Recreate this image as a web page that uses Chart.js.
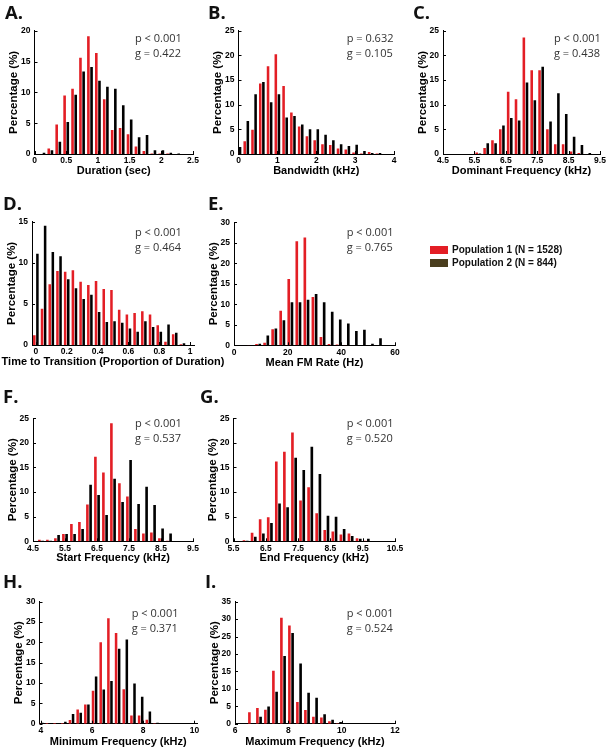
<!DOCTYPE html>
<html>
<head>
<meta charset="utf-8">
<script src="https://cdn.jsdelivr.net/npm/chart.js@4.4.1/dist/chart.umd.min.js"></script>
<style>
html,body{margin:0;padding:0;background:#fff;}
#page{position:relative;width:614px;height:749px;overflow:hidden;background:#fff;}
.cw{position:absolute;}
.cw canvas{display:block;}
.lbl{position:absolute;font-family:'Open Sans',sans-serif;font-weight:700;font-size:18.5px;line-height:18.5px;color:#111;white-space:nowrap;}
.stat{position:absolute;font-family:'Open Sans',sans-serif;font-size:11px;line-height:11px;color:#333;white-space:nowrap;}
.leg{position:absolute;font-family:'Liberation Sans',Arial,sans-serif;font-weight:700;font-size:10px;line-height:10px;color:#111;white-space:nowrap;}
.sw{position:absolute;width:18px;height:7.5px;}
</style>
</head>
<body>
<div id="page"></div>
<script>
// ---------------- DATA ----------------
const popLabels = ['Population 1 (N = 1528)', 'Population 2 (N = 844)'];
const yTitle = 'Percentage (%)';

// A. Duration
const durationBins = [0.125,0.25,0.375,0.5,0.625,0.75,0.875,1.0,1.125,1.25,1.375,1.5,1.625,1.75,1.875,2.0,2.125,2.25];
const durationPop1 = [0.0,0.9,4.8,9.5,10.6,15.6,19.1,16.4,8.9,3.9,4.2,3.2,1.2,0.5,0.1,0.1,0.1,0.0];
const durationPop2 = [0.2,0.6,2.0,5.2,9.6,13.4,14.1,11.9,10.9,10.6,7.9,5.6,2.7,3.1,0.6,0.6,0.2,0.1];
const durationXTicks = [0,0.5,1,1.5,2,2.5];
const durationYTicks = [0,5,10,15,20];

// B. Bandwidth
const bandwidthBins = [0,0.2,0.4,0.6,0.8,1.0,1.2,1.4,1.6,1.8,2.0,2.2,2.4,2.6,2.8,3.0,3.2,3.4,3.6];
const bandwidthPop1 = [0.5,2.6,4.9,14.3,17.8,20.2,13.8,8.4,5.6,3.6,2.8,2.0,1.8,1.1,0.9,0.3,0.1,0.4,0.1];
const bandwidthPop2 = [1.4,6.7,12.1,14.6,10.5,12.1,7.4,7.7,6.0,5.0,5.0,3.9,2.8,2.0,1.6,1.9,0.6,0.2,0.2];
const bandwidthXTicks = [0,1,2,3,4];
const bandwidthYTicks = [0,5,10,15,20,25];

// C. Dominant frequency
const dominantBins = [5.625,5.875,6.125,6.375,6.625,6.875,7.125,7.375,7.625,7.875,8.125,8.375,8.625,8.875,9.125];
const dominantPop1 = [0.3,1.2,2.8,5.0,12.6,11.1,23.6,17.0,17.0,5.0,2.0,2.0,0.5,0.2,0.0];
const dominantPop2 = [0.1,2.2,2.2,5.8,7.3,6.8,14.5,10.9,17.7,6.6,12.3,8.1,3.5,1.8,0.2];
const dominantXTicks = [4.5,5.5,6.5,7.5,8.5,9.5];
const dominantYTicks = [0,5,10,15,20,25];

// D. Time to transition
const transitionBins = [0,0.05,0.1,0.15,0.2,0.25,0.3,0.35,0.4,0.45,0.5,0.55,0.6,0.65,0.7,0.75,0.8,0.85,0.9,0.95];
const transitionPop1 = [1.2,4.4,7.4,9.0,8.9,9.1,7.7,7.3,7.8,6.8,6.7,4.3,3.7,3.9,4.1,3.7,2.4,0.4,1.3,0.1];
const transitionPop2 = [11.1,14.5,11.3,10.8,8.0,6.9,5.6,6.1,4.0,2.8,2.9,2.7,2.0,1.6,2.9,2.2,1.6,2.5,1.5,0.2];
const transitionXTicks = [0,0.2,0.4,0.6,0.8,1];
const transitionYTicks = [0,5,10,15];

// E. Mean FM rate
const fmBins = [6,9,12,15,18,21,24,27,30,33,36,39,42,45,48,51,54,57];
const fmPop1 = [0.1,0.3,0.6,3.9,8.4,16.2,25.4,26.3,11.8,2.0,0.3,0.2,0.1,0,0,0,0,0];
const fmPop2 = [0.1,0.4,2.4,4.1,6.1,10.5,10.5,11.1,12.5,10.5,8.2,6.3,5.3,3.5,3.8,0.4,1.7,0.1];
const fmXTicks = [0,20,40,60];
const fmYTicks = [0,5,10,15,20,25,30];

// F. Start frequency
const startBins = [4.75,5.0,5.25,5.5,5.75,6.0,6.25,6.5,6.75,7.0,7.25,7.5,7.75,8.0,8.25,8.5,8.75];
const startPop1 = [0.3,0.3,0.6,1.5,3.5,3.9,7.5,17.2,14.0,24.0,11.8,9.1,2.5,1.6,1.8,0.6,0.1];
const startPop2 = [0.1,0.1,1.3,1.5,1.5,2.5,11.5,9.4,5.35,12.7,8.0,16.5,7.6,11.1,7.4,2.6,1.6];
const startXTicks = [4.5,5.5,6.5,7.5,8.5,9.5];
const startYTicks = [0,5,10,15,20,25];

// G. End frequency
const endBins = [5.875,6.125,6.375,6.625,6.875,7.125,7.375,7.625,7.875,8.125,8.375,8.625,8.875,9.125,9.375,9.625];
const endPop1 = [0.2,1.75,4.5,4.9,16.2,18.2,22.1,8.3,11.0,5.7,2.3,2.0,1.4,1.6,0.6,0.1];
const endPop2 = [0.1,0.95,1.6,3.7,7.7,6.9,17.0,14.5,19.2,13.7,5.2,5.0,2.5,1.1,0.5,0.5];
const endXTicks = [5.5,6.5,7.5,8.5,9.5,10.5];
const endYTicks = [0,5,10,15,20,25];

// H. Minimum frequency
const minBins = [4.0,4.3,4.6,4.9,5.2,5.5,5.8,6.1,6.4,6.7,7.0,7.3,7.6,7.9,8.2,8.5];
const minPop1 = [0.1,0.2,0.2,0.2,0.9,3.5,4.7,8.1,20.0,25.9,22.3,8.5,2.0,2.0,1.0,0.1];
const minPop2 = [0.25,0.1,0.1,0.5,2.4,2.7,4.7,11.6,8.4,10.5,18.4,20.7,9.9,6.6,3.0,0.25];
const minXTicks = [4,6,8,10];
const minYTicks = [0,5,10,15,20,25,30];

// I. Maximum frequency
const maxBins = [6.3,6.6,6.9,7.2,7.5,7.8,8.1,8.4,8.7,9.0,9.3,9.6,9.9];
const maxPop1 = [0,3.25,4.5,4.0,15.2,30.4,28.2,6.2,3.9,2.0,1.8,0.7,0.1];
const maxPop2 = [0.2,0.1,2.0,4.9,9.2,19.4,26.0,17.3,8.9,7.45,2.7,1.1,0.5];
const maxXTicks = [6,8,10,12];
const maxYTicks = [0,5,10,15,20,25,30,35];

const panelLetters = ['A.','B.','C.','D.','E.','F.','G.','H.','I.'];
const xTitles = ['Duration (sec)','Bandwidth (kHz)','Dominant Frequency (kHz)',
  'Time to Transition (Proportion of Duration)','Mean FM Rate (Hz)',
  'Start Frequency (kHz)','End Frequency (kHz)','Minimum Frequency (kHz)','Maximum Frequency (kHz)'];
const pTexts = ['p < 0.001','p = 0.632','p < 0.001','p < 0.001','p < 0.001','p < 0.001','p < 0.001','p < 0.001','p < 0.001'];
const gTexts = ['g = 0.422','g = 0.105','g = 0.438','g = 0.464','g = 0.765','g = 0.537','g = 0.520','g = 0.371','g = 0.524'];

// ---------------- STYLE / LAYOUT ----------------
const RED = '#e31e25';
const BLACK = '#000000';
const LEGEND2 = '#4a3e1e';
const Y_TITLE_SIZE = 11.5, X_TITLE_SIZE = 11;
const Y_TITLE_GAP = 20.5;

const panels = [
  {bins:durationBins, p1:durationPop1, p2:durationPop2, xt:durationXTicks, yt:durationYTicks, xmin:0, xmax:2.5,
   L:34.5, R:193, T:30.7, B:154, xty:170.7, lx:5, ly:13.3, sx:135, sy:37.5},
  {bins:bandwidthBins, p1:bandwidthPop1, p2:bandwidthPop2, xt:bandwidthXTicks, yt:bandwidthYTicks, xmin:0, xmax:4,
   L:238.5, R:394, T:30.7, B:154, xty:170.7, lx:208, ly:13.3, sx:346.7, sy:37.6},
  {bins:dominantBins, p1:dominantPop1, p2:dominantPop2, xt:dominantXTicks, yt:dominantYTicks, xmin:4.5, xmax:9.5,
   L:443, R:600, T:30.7, B:154, xty:170.7, lx:413, ly:13.3, sx:554, sy:37.5},
  {bins:transitionBins, p1:transitionPop1, p2:transitionPop2, xt:transitionXTicks, yt:transitionYTicks, xmin:-0.025, xmax:1.025,
   L:32, R:194, T:221.7, B:345, xty:361.7, lx:3, ly:204, sx:135, sy:231.7},
  {bins:fmBins, p1:fmPop1, p2:fmPop2, xt:fmXTicks, yt:fmYTicks, xmin:0, xmax:60,
   L:234, R:395, T:222.3, B:345.3, xty:362.7, lx:208, ly:204, sx:346.7, sy:231.7},
  {bins:startBins, p1:startPop1, p2:startPop2, xt:startXTicks, yt:startYTicks, xmin:4.5, xmax:9.5,
   L:33, R:193, T:418.3, B:541.3, xty:558.3, lx:3, ly:397, sx:135, sy:423.3},
  {bins:endBins, p1:endPop1, p2:endPop2, xt:endXTicks, yt:endYTicks, xmin:5.5, xmax:10.5,
   L:233.5, R:395, T:418.3, B:541.3, xty:558.3, lx:200, ly:397, sx:346.7, sy:423.3},
  {bins:minBins, p1:minPop1, p2:minPop2, xt:minXTicks, yt:minYTicks, xmin:3.95, xmax:10.1,
   L:39.5, R:197, T:601.7, B:723.7, xty:742.3, lx:3, ly:581.5, sx:131.7, sy:613.3},
  {bins:maxBins, p1:maxPop1, p2:maxPop2, xt:maxXTicks, yt:maxYTicks, xmin:6, xmax:12,
   L:235, R:395, T:601.7, B:723.7, xty:742.3, lx:205, ly:581.5, sx:346.7, sy:612.7}
];

const page = document.getElementById('page');
const fmt = v => String(+(+v).toFixed(3));

// inward tick marks + x-axis title (drawn without width compression)
const axisExtras = {
  id: 'axisExtras',
  afterDraw(chart, args, opts) {
    const {ctx, chartArea: a, scales: {x, y}} = chart;
    ctx.save();
    ctx.strokeStyle = '#000';
    ctx.lineWidth = 1;
    ctx.beginPath();
    y.ticks.forEach(t => {
      const py = Math.round(y.getPixelForValue(t.value)) + 0.5;
      ctx.moveTo(a.left, py); ctx.lineTo(a.left + 3, py);
    });
    x.ticks.forEach(t => {
      const px = Math.round(x.getPixelForValue(t.value)) + 0.5;
      ctx.moveTo(px, a.bottom); ctx.lineTo(px, a.bottom - 3);
    });
    ctx.stroke();
    ctx.fillStyle = '#000';
    ctx.font = 'bold ' + X_TITLE_SIZE + 'px "Liberation Sans"';
    ctx.textAlign = 'center';
    ctx.textBaseline = 'middle';
    ctx.fillText(opts.text, (a.left + a.right) / 2, opts.y);
    ctx.restore();
  }
};

panels.forEach((p, idx) => {
  const yHalf = Y_TITLE_SIZE * 1.2 / 2;
  const xHalf = X_TITLE_SIZE * 1.2 / 2;
  const ytx = p.L - Y_TITLE_GAP;
  const cLeft = Math.max(0, Math.floor(p.L - 40));
  const cRight = Math.min(614, Math.ceil(p.R + 36));
  const cTop = Math.floor(p.T - 10);
  const cBottom = Math.min(749, Math.ceil(p.xty + xHalf));
  const w = cRight - cLeft, h = cBottom - cTop;

  const wrap = document.createElement('div');
  wrap.className = 'cw';
  wrap.style.left = cLeft + 'px';
  wrap.style.top = cTop + 'px';
  wrap.style.width = w + 'px';
  wrap.style.height = h + 'px';
  const canvas = document.createElement('canvas');
  canvas.width = w; canvas.height = h;
  canvas.style.width = w + 'px'; canvas.style.height = h + 'px';
  wrap.appendChild(canvas);
  page.appendChild(wrap);

  const yWidth = p.L - cLeft;
  const xHeight = cBottom - p.B;
  const yTitlePad = Math.max(0, ytx - yHalf - cLeft);

  new Chart(canvas, {
    type: 'bar',
    data: {
      datasets: [
        {label: popLabels[0], data: p.bins.map((b, i) => ({x: b, y: p.p1[i]})), backgroundColor: RED,
         borderWidth: 0, barPercentage: 0.82, categoryPercentage: 0.8},
        {label: popLabels[1], data: p.bins.map((b, i) => ({x: b, y: p.p2[i]})), backgroundColor: BLACK,
         borderWidth: 0, barPercentage: 0.82, categoryPercentage: 0.8}
      ]
    },
    options: {
      responsive: false,
      animation: false,
      devicePixelRatio: 1,
      layout: {padding: {top: p.T - cTop, right: cRight - p.R, left: 0, bottom: 0}},
      plugins: {legend: {display: false}, tooltip: {enabled: false},
                axisExtras: {text: xTitles[idx], y: p.xty - cTop}},
      scales: {
        x: {
          type: 'linear', min: p.xmin, max: p.xmax, offset: false,
          grid: {display: false, drawTicks: false},
          border: {display: true, color: '#000', width: 1},
          ticks: {color: '#000', font: {family: 'Liberation Sans', weight: 'bold', size: 8.5}, padding: 2,
                  maxRotation: 0, autoSkip: false, callback: v => fmt(v)},
          afterBuildTicks: s => { s.ticks = p.xt.map(v => ({value: v})); },
          afterFit: s => { s.height = xHeight; },
          title: {display: false}
        },
        y: {
          type: 'linear', min: 0, max: p.yt[p.yt.length - 1],
          grid: {display: false, drawTicks: false},
          border: {display: true, color: '#000', width: 1},
          ticks: {color: '#000', font: {family: 'Liberation Sans', weight: 'bold', size: 8.5}, padding: 4,
                  autoSkip: false, callback: v => fmt(v)},
          afterBuildTicks: s => { s.ticks = p.yt.map(v => ({value: v})); },
          afterFit: s => { s.width = yWidth; },
          title: {display: true, text: yTitle, color: '#000',
                  font: {family: 'Liberation Sans', weight: 'bold', size: Y_TITLE_SIZE},
                  padding: {top: yTitlePad, bottom: 0}}
        }
      }
    },
    plugins: [axisExtras]
  });

  // panel letter
  const l = document.createElement('div');
  l.className = 'lbl';
  l.textContent = panelLetters[idx];
  l.style.left = p.lx + 'px';
  l.style.top = (p.ly - 0.53 * 18.5) + 'px';
  page.appendChild(l);
  // stats
  [pTexts[idx], gTexts[idx]].forEach((t, k) => {
    const s = document.createElement('div');
    s.className = 'stat';
    s.textContent = t;
    s.style.left = p.sx + 'px';
    s.style.top = (p.sy + k * 15 - 0.53 * 11) + 'px';
    page.appendChild(s);
  });
});

// legend
[[RED, 246, 249.8], [LEGEND2, 259.3, 263.2]].forEach((row, k) => {
  const sw = document.createElement('div');
  sw.className = 'sw';
  sw.style.background = row[0];
  sw.style.left = '430px';
  sw.style.top = row[1] + 'px';
  page.appendChild(sw);
  const t = document.createElement('div');
  t.className = 'leg';
  t.textContent = popLabels[k];
  t.style.left = '452px';
  t.style.top = (row[2] - 0.49 * 10) + 'px';
  page.appendChild(t);
});
</script>
</body>
</html>
